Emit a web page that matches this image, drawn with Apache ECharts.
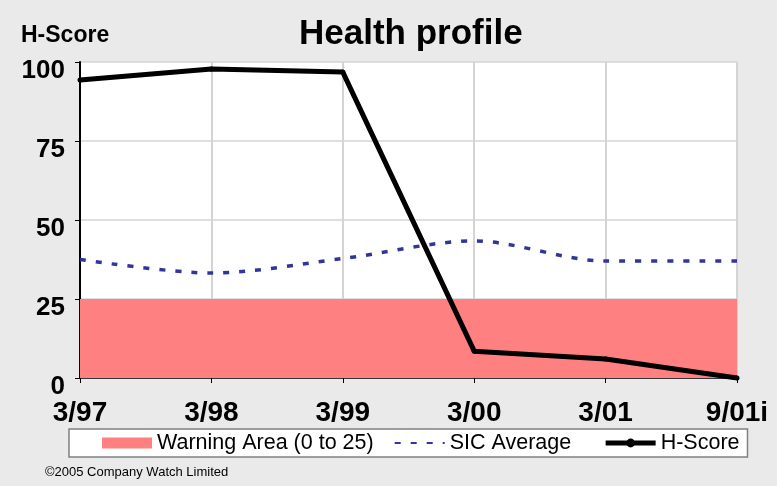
<!DOCTYPE html>
<html>
<head>
<meta charset="utf-8">
<script src="https://cdn.jsdelivr.net/npm/echarts@6/dist/echarts.min.js"></script>
<style>
  html, body { margin: 0; padding: 0; background: #eaeaea; }
  #chart { width: 777px; height: 486px; }
</style>
</head>
<body>
<div id="chart"></div>
<script>
// periods on the x axis
var periods = ["3/97", "3/98", "3/99", "3/00", "3/01", "9/01i"];
// company H-Score
var hScore = [94.3, 97.8, 96.8, 8.5, 6.0, 0];
// industry (SIC) average
var sicAverage = [37.5, 33.2, 37.8, 43.4, 37.0, 37.0];
// warning band limits
var warningLow = 0;
var warningHigh = 25;
var yTicks = [0, 25, 50, 75, 100];

var chart = echarts.init(document.getElementById("chart"));

var option = {
  backgroundColor: "#eaeaea",
  animation: false,
  textStyle: { fontFamily: "Liberation Sans, Arial, sans-serif" },
  title: [
    {
      text: "Health profile",
      left: 294,
      top: 12,
      textStyle: { fontSize: 35, fontWeight: "bold", color: "#000" }
    },
    {
      text: "H-Score",
      left: 16,
      top: 19,
      textStyle: { fontSize: 23, fontWeight: "bold", color: "#000" }
    },
    {
      text: "\u00a92005 Company Watch Limited",
      left: 40,
      top: 461,
      textStyle: { fontSize: 13, fontWeight: "normal", color: "#000" }
    }
  ],
  legend: {
    left: 69,
    top: 429,
    orient: "horizontal",
    backgroundColor: "#fff",
    borderColor: "#808080",
    borderWidth: 1.5,
    borderRadius: 0,
    padding: [3, 8, 3, 33],
    itemGap: 20,
    itemWidth: 50,
    itemHeight: 11,
    textStyle: { fontSize: 21.5, lineHeight: 22, color: "#000" },
    formatter: function (name) {
      return name === "SIC Average" ? name + "\u00a0\u00a0" : name;
    },
    data: [
      { name: "Warning Area (0 to 25)", icon: "rect" },
      { name: "SIC Average", itemStyle: { opacity: 0 } },
      { name: "H-Score", lineStyle: { width: 5 } }
    ]
  },
  grid: {
    left: 80, right: 40, top: 62, bottom: 108,
    show: true, backgroundColor: "#fff", borderWidth: 0
  },
  xAxis: {
    type: "category",
    data: periods,
    boundaryGap: false,
    axisLine: { lineStyle: { color: "#000", width: 1.5 } },
    axisTick: { show: true, length: 5, lineStyle: { color: "#000" } },
    axisLabel: { fontSize: 28, fontWeight: "bold", color: "#000", margin: 21 },
    splitLine: { show: true, lineStyle: { color: "#d4d4d4", width: 2 } }
  },
  yAxis: {
    type: "value",
    min: 0,
    max: 100,
    interval: 25,
    axisLine: { show: true, lineStyle: { color: "#000", width: 2 } },
    axisTick: { show: true, length: 5, lineStyle: { color: "#000" } },
    axisLabel: {
      fontSize: 26,
      fontWeight: "bold",
      color: "#000",
      margin: 15,
      verticalAlign: "top",
      lineHeight: 18,
      formatter: function (v) { return yTicks.indexOf(v) >= 0 ? String(v) : ""; }
    },
    splitLine: { show: true, lineStyle: { color: "#d4d4d4", width: 1.5 } }
  },
  series: [
    {
      name: "Warning Area (0 to 25)",
      type: "line",
      data: [],
      itemStyle: { color: "#ff8080" },
      markArea: {
        silent: true,
        itemStyle: { color: "#ff8080", opacity: 1 },
        data: [[{ yAxis: warningLow }, { yAxis: warningHigh }]]
      }
    },
    {
      name: "SIC Average",
      type: "line",
      data: sicAverage,
      smooth: 0.3,
      symbol: "none",
      itemStyle: { color: "#333399" },
      lineStyle: { color: "#333399", width: 3.5, type: [6, 10] },
      z: 3
    },
    {
      name: "H-Score",
      type: "line",
      data: hScore,
      symbol: "circle",
      symbolSize: 5,
      itemStyle: { color: "#000" },
      lineStyle: { color: "#000", width: 5 },
      z: 4
    }
  ]
};

chart.setOption(option);
</script>
</body>
</html>
